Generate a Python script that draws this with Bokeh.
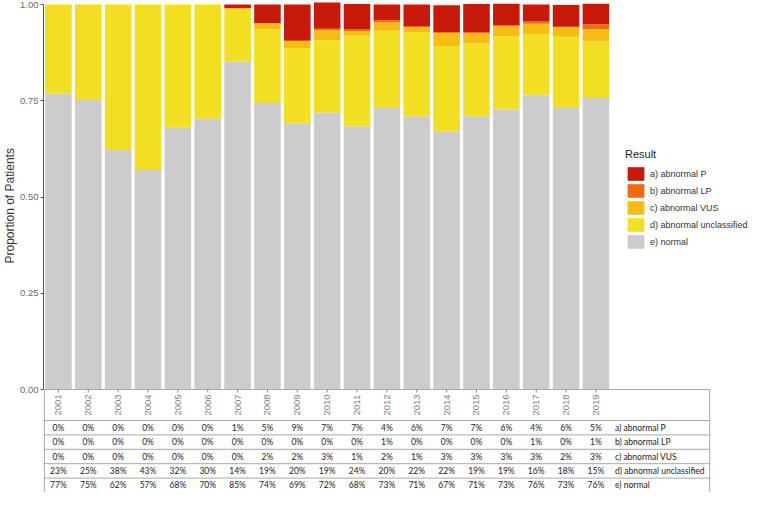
import math
from bokeh.plotting import figure
from bokeh.models import (ColumnDataSource, Range1d, FixedTicker, NumeralTickFormatter,
                          Legend, LegendItem, Title)
from bokeh.embed import file_html
from bokeh.resources import INLINE
from bokeh.core.properties import value

# ---------------- data ----------------
years = ["2001", "2002", "2003", "2004", "2005", "2006", "2007", "2008", "2009", "2010",
         "2011", "2012", "2013", "2014", "2015", "2016", "2017", "2018", "2019"]

# proportions
normal = [0.768, 0.752, 0.622, 0.570, 0.680, 0.703, 0.851, 0.744, 0.691, 0.719,
          0.683, 0.732, 0.709, 0.670, 0.709, 0.727, 0.764, 0.732, 0.757]
unclassified = [0.232, 0.248, 0.378, 0.430, 0.320, 0.297, 0.139, 0.191, 0.196, 0.188,
                0.236, 0.200, 0.219, 0.222, 0.190, 0.190, 0.159, 0.184, 0.147]
vus = [0.0, 0.0, 0.0, 0.0, 0.0, 0.0, 0.0, 0.016, 0.019, 0.026,
       0.012, 0.021, 0.013, 0.034, 0.026, 0.026, 0.027, 0.024, 0.032]
lp = [0.0, 0.0, 0.0, 0.0, 0.0, 0.0, 0.0, 0.0, 0.0, 0.004,
      0.004, 0.006, 0.002, 0.002, 0.003, 0.003, 0.006, 0.002, 0.013]
p_path = [0.0, 0.0, 0.0, 0.0, 0.0, 0.0, 0.010, 0.049, 0.094, 0.068,
          0.066, 0.041, 0.057, 0.070, 0.073, 0.056, 0.044, 0.057, 0.053]

# table percentages (as printed)
pct_P = [0, 0, 0, 0, 0, 0, 1, 5, 9, 7, 7, 4, 6, 7, 7, 6, 4, 6, 5]
pct_LP = [0, 0, 0, 0, 0, 0, 0, 0, 0, 0, 0, 1, 0, 0, 0, 0, 1, 0, 1]
pct_VUS = [0, 0, 0, 0, 0, 0, 0, 2, 2, 3, 1, 2, 1, 3, 3, 3, 3, 2, 3]
pct_unc = [23, 25, 38, 43, 32, 30, 14, 19, 20, 19, 24, 20, 22, 22, 19, 19, 16, 18, 15]
pct_norm = [77, 75, 62, 57, 68, 70, 85, 74, 69, 72, 68, 73, 71, 67, 71, 73, 76, 73, 76]

labels = ["a) abnormal P", "b) abnormal LP", "c) abnormal VUS",
          "d) abnormal unclassified", "e) normal"]
colors = ["#C81A0B", "#EF6B10", "#F7BC14", "#F3DF22", "#CCCCCC"]

# ---------------- layout constants ----------------
PX_PER_Y = 385.0
Y_TOP = 1 + 4 / PX_PER_Y
Y_BOT = -103 / PX_PER_Y
YEAR_BOX = -31 / PX_PER_Y
ROW_H = 14.4 / PX_PER_Y
X_END = 23.61
TABLE_RIGHT = 22.31
LABEL_X = 19.14

pos = [i + 0.5 for i in range(len(years))]
src = ColumnDataSource(dict(x=pos, normal=normal, unclassified=unclassified,
                            vus=vus, lp=lp, p=p_path, year=years))

p = figure(width=748, height=492, output_backend="svg", toolbar_location=None,
           x_range=Range1d(0, X_END), y_range=Range1d(Y_BOT, Y_TOP),
           x_axis_type=None, min_border_left=36, min_border_right=0,
           min_border_top=0, min_border_bottom=0, outline_line_color=None)
p.ygrid.visible = False
p.background_fill_color = "white"

stack_keys = ["normal", "unclassified", "vus", "lp", "p"]
stack_colors = [colors[4], colors[3], colors[2], colors[1], colors[0]]
rends = p.vbar_stack(stack_keys, x="x", width=0.89, color=stack_colors,
                     line_color=None, source=src)

# y axis
ax = p.yaxis[0]
ax.bounds = (0, 1)
ax.ticker = FixedTicker(ticks=[0, 0.25, 0.5, 0.75, 1.0])
ax.formatter = NumeralTickFormatter(format="0.00")
ax.minor_tick_line_color = None
ax.major_tick_in = 0
ax.major_tick_out = 3
ax.major_label_standoff = 2
ax.major_label_text_font = "Liberation Sans"
ax.major_label_text_font_size = "9.5px"
ax.major_label_text_color = "#6b6b6b"
ax.axis_line_color = "#555555"
ax.major_tick_line_color = "#555555"

ytitle = Title(text="Proportion of Patients", align="left", offset=229, standoff=1,
               text_font="Liberation Sans", text_font_size="12px",
               text_font_style="normal", text_color="#333333")
p.add_layout(ytitle, "left")

# ---------------- table ----------------
TFONT = value("Lato")
line_col = "#a8a8a8"
row_edges = [0.0, YEAR_BOX] + [YEAR_BOX - ROW_H * (k + 1) for k in range(5)]
p.segment(x0=[0.0] * len(row_edges), y0=row_edges, x1=[TABLE_RIGHT] * len(row_edges),
          y1=row_edges, line_color=line_col, line_width=1)
p.segment(x0=[0.03, TABLE_RIGHT], y0=[0.0, 0.0], x1=[0.03, TABLE_RIGHT],
          y1=[row_edges[-1], row_edges[-1]], line_color=line_col, line_width=1)
# small ticks above years
p.segment(x0=pos, y0=[0.0] * len(pos), x1=pos, y1=[-3 / PX_PER_Y] * len(pos),
          line_color="#888888", line_width=1)

p.text(x="x", y=YEAR_BOX / 2, text="year", source=src, angle=math.pi / 2,
       text_font=value("Liberation Sans"), text_font_size="9.5px",
       text_color="#808080", text_align="center", text_baseline="middle")

rows = [pct_P, pct_LP, pct_VUS, pct_unc, pct_norm]
for k, vals in enumerate(rows):
    yc = YEAR_BOX - ROW_H * (k + 0.5)
    p.text(x=pos, y=[yc] * len(pos), text=[f"{v}%" for v in vals],
           text_font=TFONT, text_font_size="8.5px",
           text_color="#222222", text_align="center", text_baseline="middle")
    p.text(x=[LABEL_X], y=[yc], text=[labels[k]],
           text_font=TFONT, text_font_size="8.5px",
           text_color="#222222", text_align="left", text_baseline="middle")

# ---------------- legend ----------------
items = [LegendItem(label=labels[k], renderers=[rends[4 - k]]) for k in range(5)]
legend = Legend(items=items, location=(582, 242), glyph_width=21, glyph_height=17,
                label_height=17, spacing=0, padding=0, margin=0, label_standoff=4,
                background_fill_alpha=0, border_line_alpha=0,
                title="Result", title_text_font_size="11px", title_standoff=5,
                title_text_font="Liberation Sans", title_text_color="#222222",
                title_text_font_style="normal",
                label_text_font="Liberation Sans", label_text_font_size="9px",
                label_text_color="#333333")
p.add_layout(legend)

open("out.html", "w").write(file_html(p, INLINE))
